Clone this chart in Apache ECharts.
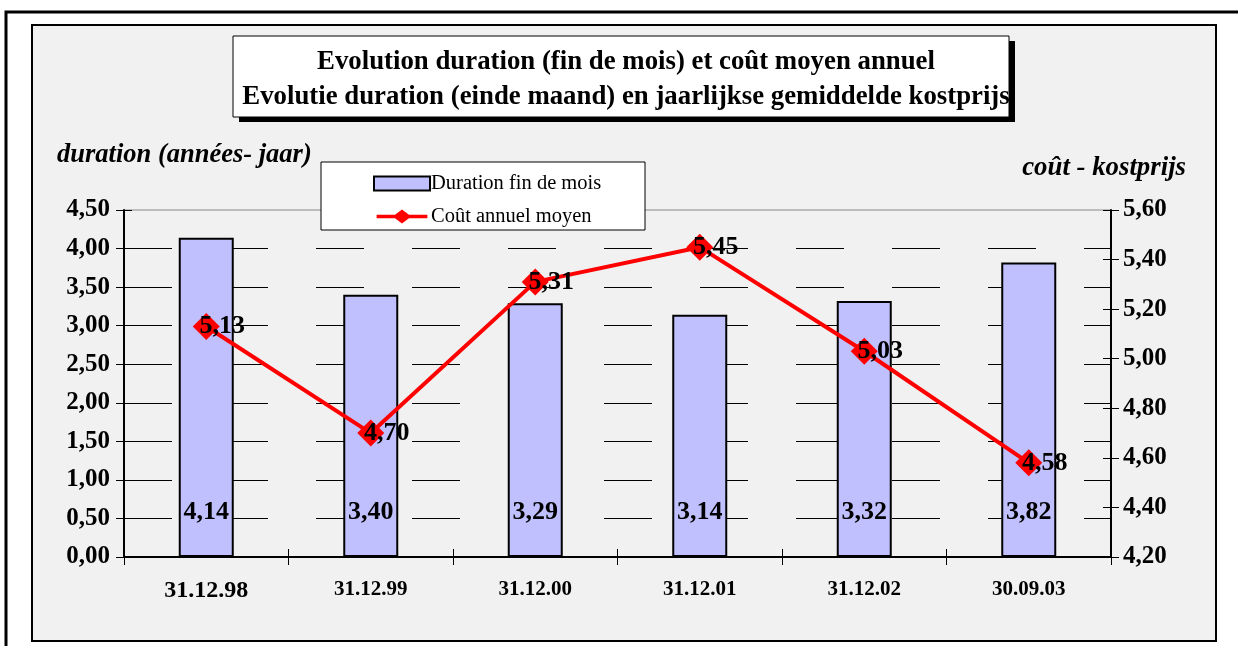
<!DOCTYPE html>
<html>
<head>
<meta charset="utf-8">
<script src="https://cdn.jsdelivr.net/npm/echarts@6/dist/echarts.min.js"></script>
<style>
    html, body { margin: 0; padding: 0; background: #fff; }
    #chart { width: 1238px; height: 646px; }
</style>
</head>
<body>
<div id="chart"></div>
<script>
    // dates (fin de mois / einde maand)
    const categories = ["31.12.98", "31.12.99", "31.12.00", "31.12.01", "31.12.02", "30.09.03"];
    // duration fin de mois (années - jaar)
    const durationData = [4.14, 3.40, 3.29, 3.14, 3.32, 3.82];
    // coût annuel moyen
    const coutData = [5.13, 4.70, 5.31, 5.45, 5.03, 4.58];
    const legendNames = ["Duration fin de mois", "Coût annuel moyen"];
    const titleLines = [
        "Evolution duration (fin de mois) et coût moyen annuel",
        "Evolutie duration (einde maand) en jaarlijkse gemiddelde kostprijs"
    ];

    const serif = "'Liberation Serif', 'Times New Roman', serif";
    const fmt = v => Number(v).toFixed(2).replace(".", ",");

    // legend icon: thick red line with a diamond in the middle
    const lineIcon = "path://M0,6L21,6L29,0L37,6L58,6L58,10L37,10L29,16L21,10L0,10Z";

    const chart = echarts.init(document.getElementById("chart"));

    const option = {
        animation: false,
        textStyle: { fontFamily: serif },
        title: {
            text: titleLines.join("\n"),
            left: 621,
            top: 40,
            textAlign: "center",
            z: 8,
            textStyle: {
                fontFamily: serif,
                fontSize: 26.8,
                fontWeight: "bold",
                color: "#000",
                lineHeight: 35
            }
        },
        graphic: [
            // page frame (top and left only)
            { type: "polyline", z: -20, shape: { points: [[6, 646], [6, 12], [1238, 12]] },
              style: { stroke: "#000", lineWidth: 3, fill: null } },
            // chart area
            { type: "rect", z: -19, shape: { x: 32, y: 25, width: 1184, height: 616 },
              style: { fill: "#f1f1f1", stroke: "#000", lineWidth: 2 } },
            // title box + shadow
            { type: "rect", z: 5, shape: { x: 239, y: 41, width: 776, height: 81 }, style: { fill: "#000" } },
            { type: "rect", z: 6, shape: { x: 233, y: 36, width: 776, height: 81 },
              style: { fill: "#fff", stroke: "#000", lineWidth: 1 } },
            // legend box
            { type: "rect", z: 5, shape: { x: 321, y: 162, width: 324, height: 68 },
              style: { fill: "#fff", stroke: "#000", lineWidth: 1 } },
            // axis titles
            { type: "text", z: 6, x: 57, y: 155,
              style: { text: "duration (années- jaar)", fontFamily: serif, fontSize: 26.5, fontWeight: "bold",
                       fontStyle: "italic", fill: "#000", verticalAlign: "middle" } },
            { type: "text", z: 6, x: 1186, y: 168,
              style: { text: "coût - kostprijs", fontFamily: serif, fontSize: 26.8, fontWeight: "bold",
                       fontStyle: "italic", fill: "#000", align: "right", verticalAlign: "middle" } }
        ],
        legend: {
            orient: "vertical",
            left: 368,
            top: 168,
            itemGap: 12,
            itemWidth: 56,
            itemHeight: 14,
            z: 7,
            data: [
                { name: legendNames[0], icon: "rect" },
                { name: legendNames[1], icon: lineIcon, itemStyle: { color: "#ff0000", borderWidth: 0 } }
            ],
            textStyle: { fontFamily: serif, fontSize: 20.5, color: "#000", padding: [0, 0, 0, -4] }
        },
        grid: {
            left: 124,
            right: 127,
            top: 210,
            bottom: 89,
            show: true,
            borderColor: "#888",
            borderWidth: 1,
            backgroundColor: "transparent"
        },
        xAxis: [
            {
                type: "category",
                data: categories,
                axisLine: { lineStyle: { color: "#000", width: 2 } },
                axisTick: { show: true, length: 8, lineStyle: { color: "#000" } },
                axisLabel: {
                    margin: 22,
                    fontFamily: serif,
                    fontSize: 21,
                    fontWeight: "bold",
                    color: "#000",
                    formatter: (v, i) => i === 0 ? "{a|" + v + "}" : v,
                    rich: { a: { fontFamily: serif, fontSize: 24, fontWeight: "bold", color: "#000" } }
                }
            },
            {
                // inner half of the crossing ticks
                type: "category",
                position: "bottom",
                data: categories,
                axisLine: { show: false },
                axisTick: { show: true, inside: true, length: 8, lineStyle: { color: "#000" } },
                axisLabel: { show: false }
            }
        ],
        yAxis: [
            {
                type: "value",
                min: 0,
                max: 4.5,
                interval: 0.5,
                position: "left",
                axisLine: { show: true, lineStyle: { color: "#000", width: 2 } },
                axisTick: { show: true, length: 8, lineStyle: { color: "#000" } },
                axisLabel: { margin: 14, fontFamily: serif, fontSize: 25, fontWeight: "bold", color: "#000", formatter: fmt },
                splitLine: {
                    show: true,
                    showMinLine: false,
                    showMaxLine: false,
                    lineStyle: { color: "#000", width: 1, type: [48, 48] }
                }
            },
            {
                type: "value",
                min: 4.2,
                max: 5.6,
                interval: 0.2,
                position: "right",
                axisLine: { show: true, lineStyle: { color: "#000", width: 2 } },
                axisTick: { show: true, length: 8, lineStyle: { color: "#000" } },
                axisLabel: { margin: 12, fontFamily: serif, fontSize: 25, fontWeight: "bold", color: "#000", formatter: fmt },
                splitLine: { show: false }
            },
            {
                type: "value",
                min: 0,
                max: 4.5,
                interval: 0.5,
                position: "left",
                axisLine: { show: false },
                axisTick: { show: true, inside: true, length: 8, lineStyle: { color: "#000" } },
                axisLabel: { show: false },
                splitLine: { show: false }
            },
            {
                type: "value",
                min: 4.2,
                max: 5.6,
                interval: 0.2,
                position: "right",
                axisLine: { show: false },
                axisTick: { show: true, inside: true, length: 8, lineStyle: { color: "#000" } },
                axisLabel: { show: false },
                splitLine: { show: false }
            }
        ],
        series: [
            {
                name: legendNames[0],
                type: "bar",
                yAxisIndex: 0,
                barWidth: 55,
                itemStyle: { color: "#c0c0ff", borderColor: "#000", borderWidth: 2 },
                label: {
                    show: true,
                    position: "insideBottom",
                    distance: 32,
                    fontFamily: serif,
                    fontSize: 26,
                    fontWeight: "bold",
                    color: "#000",
                    formatter: p => fmt(p.value)
                },
                data: durationData
            },
            {
                name: legendNames[1],
                type: "line",
                yAxisIndex: 1,
                symbol: "diamond",
                symbolSize: 27,
                lineStyle: { color: "#ff0000", width: 4 },
                itemStyle: { color: "#ff0000" },
                label: {
                    show: true,
                    position: "inside",
                    offset: [16, 0],
                    fontFamily: serif,
                    fontSize: 26,
                    fontWeight: "bold",
                    color: "#000",
                    formatter: p => fmt(p.value)
                },
                z: 3,
                data: coutData
            }
        ]
    };

    chart.setOption(option);
</script>
</body>
</html>
